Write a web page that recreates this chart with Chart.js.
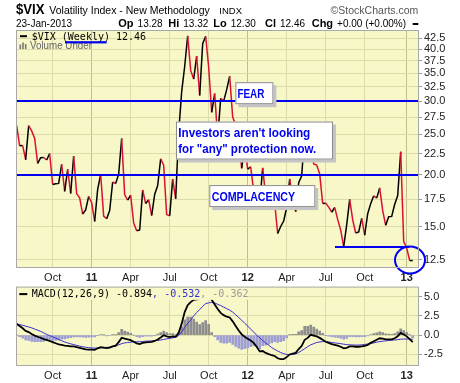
<!DOCTYPE html>
<html>
<head>
<meta charset="utf-8">
<script src="https://cdn.jsdelivr.net/npm/chart.js@4.4.0/dist/chart.umd.min.js"></script>
<style>
  body { margin: 0; background: #fff; width: 460px; height: 383px; overflow: hidden; position: relative; }
  canvas { position: absolute; left: 0; }
  #vix { top: 0; }
  #macd { top: 278px; }
</style>
</head>
<body>
<canvas id="vix" width="460" height="292"></canvas>
<canvas id="macd" width="460" height="105"></canvas>
<script>
// weekly bars, week 0 = week of 12-Jul-2010, last = week of 21-Jan-2013
const vixClose = [
  26.25, 23.47, 23.50, 21.74, 26.24, 25.49, 24.45, 21.31, 21.99, 22.01,
  21.71, 22.50, 18.96, 19.03, 19.08, 21.20, 18.26, 20.61, 18.04, 22.17,
  18.01, 17.61, 16.11, 16.47, 17.75, 17.14, 15.46, 18.47, 20.04, 15.93,
  15.69, 16.43, 19.22, 19.06, 20.08, 24.44, 17.91, 17.40, 17.87, 15.32,
  14.69, 14.75, 18.40, 17.07, 17.43, 15.98, 17.95, 18.86, 21.85, 21.10,
  16.06, 15.95, 19.53, 17.52, 25.25, 31.66, 36.36, 43.05, 35.59, 33.92,
  38.52, 30.98, 41.25, 42.96, 36.20, 28.24, 31.32, 24.53, 30.50, 30.04,
  32.00, 34.47, 27.52, 26.38, 24.29, 20.73, 23.40, 20.63, 20.91, 18.28,
  18.53, 17.10, 20.79, 17.78, 17.31, 17.29, 17.11, 14.47, 15.04, 15.50,
  16.70, 19.55, 17.44, 16.32, 19.16, 19.89, 25.10, 21.76, 26.66, 21.23,
  21.11, 20.11, 17.08, 17.10, 16.74, 16.27, 16.70, 15.64, 14.74, 13.45,
  15.18, 17.47, 15.60, 14.51, 14.59, 15.73, 14.33, 16.14, 17.06, 17.81,
  17.59, 18.61, 16.41, 15.14, 15.87, 15.90, 17.00, 17.84, 22.72, 13.83,
  13.36, 12.46, 12.46
];

const macdLine = [
  1.46, 1.2, 0.9, 0.55, 0.4, 0.15, -0.05, -0.2, -0.33, -0.5,
  -0.6, -0.75, -0.9, -1.05, -1.2, -1.25, -1.35, -1.38, -1.45, -1.45,
  -1.55, -1.65, -1.75, -1.85, -1.88, -1.88, -1.9, -1.7, -1.55, -1.6,
  -1.67, -1.6, -1.45, -1.35, -0.9, -0.35, -0.45, -0.55, -0.65, -0.85,
  -1.05, -1.15, -1.0, -0.92, -0.9, -0.88, -0.75, -0.55, -0.3, 0.0,
  -0.15, -0.25, -0.15, -0.2, 0.3, 1.5, 3.0, 3.9, 4.3, 4.6,
  4.65, 4.7, 5.4, 6.0, 5.6, 4.6, 4.0, 3.4, 2.9, 2.6,
  2.4, 2.3, 1.8, 1.2, 0.6, 0.1, -0.2, -0.45, -0.7, -1.0,
  -1.5, -2.1, -2.05, -2.3, -2.45, -2.6, -2.7, -3.0, -3.1, -3.1,
  -2.85, -2.5, -2.4, -2.3, -1.8, -1.4, -0.6, -0.35, 0.05, -0.05,
  -0.15, -0.35, -0.6, -0.85, -1.0, -1.15, -1.25, -1.35, -1.5, -1.7,
  -1.65, -1.45, -1.45, -1.5, -1.5, -1.45, -1.4, -1.25, -1.0, -0.8,
  -0.6, -0.4, -0.45, -0.55, -0.55, -0.55, -0.4, -0.15, 0.3, 0.1,
  -0.15, -0.5, -0.894
];

const signalLine = [
  1.46, 1.38, 1.28, 1.17, 1.07, 0.95, 0.8, 0.65, 0.5, 0.3,
  0.1, -0.05, -0.2, -0.38, -0.55, -0.72, -0.88, -1.0, -1.12, -1.22,
  -1.32, -1.42, -1.5, -1.57, -1.62, -1.66, -1.68, -1.67, -1.64, -1.62,
  -1.58, -1.55, -1.48, -1.4, -1.25, -1.1, -1.0, -0.95, -0.9, -0.85,
  -0.85, -0.85, -0.82, -0.78, -0.76, -0.74, -0.72, -0.68, -0.63, -0.55,
  -0.48, -0.42, -0.35, -0.25, -0.05, 0.4, 1.0, 1.55, 1.95, 2.5,
  2.95, 3.33, 3.75, 4.1, 4.2, 4.25, 4.2, 4.0, 3.85, 3.65,
  3.45, 3.25, 3.0, 2.65, 2.3, 1.95, 1.55, 1.2, 0.8, 0.4,
  0.0, -0.33, -0.7, -1.0, -1.3, -1.6, -1.85, -2.05, -2.25, -2.4,
  -2.5, -2.52, -2.5, -2.42, -2.25, -2.0, -1.75, -1.5, -1.25, -1.1,
  -0.95, -0.88, -0.83, -0.83, -0.88, -0.95, -1.0, -1.05, -1.1, -1.17,
  -1.22, -1.25, -1.27, -1.28, -1.28, -1.25, -1.2, -1.15, -1.08, -1.0,
  -0.9, -0.83, -0.78, -0.73, -0.69, -0.65, -0.62, -0.58, -0.52, -0.5,
  -0.5, -0.52, -0.532
];

const macdHist = [
  0, -0.18, -0.38, -0.62, -0.67, -0.8, -0.85, -0.85, -0.83, -0.8,
  -0.7, -0.7, -0.7, -0.67, -0.65, -0.53, -0.47, -0.38, -0.33, -0.23,
  -0.23, -0.23, -0.25, -0.28, -0.26, -0.22, -0.22, -0.03, 0.09, 0.02,
  -0.09, -0.05, 0.03, 0.05, 0.35, 0.75, 0.55, 0.4, 0.25, 0,
  -0.2, -0.3, -0.18, -0.14, -0.14, -0.14, -0.03, 0.13, 0.33, 0.55,
  0.33, 0.17, 0.2, 0.05, 0.35, 1.1, 2.0, 2.35, 2.35, 2.1,
  1.7, 1.37, 1.65, 1.9, 1.4, 0.35, -0.2, -0.6, -0.95, -1.05,
  -1.05, -0.95, -1.2, -1.45, -1.7, -1.85, -1.75, -1.65, -1.5, -1.4,
  -1.5, -1.77, -1.35, -1.3, -1.15, -1.0, -0.85, -0.95, -0.85, -0.7,
  -0.35, 0.02, 0.1, 0.12, 0.45, 0.6, 1.15, 1.15, 1.3, 1.05,
  0.8, 0.53, 0.23, -0.02, -0.12, -0.2, -0.25, -0.3, -0.4, -0.53,
  -0.43, -0.2, -0.18, -0.22, -0.22, -0.2, -0.2, -0.1, 0.08, 0.2,
  0.3, 0.43, 0.33, 0.18, 0.14, 0.1, 0.22, 0.43, 0.82, 0.6,
  0.35, 0.02, -0.362
];

// first week of each quarter
const weekTicks = [12, 25, 38, 51, 64, 77, 90, 103, 116, 130];
const weekTickLabels = ['Oct', '11', 'Apr', 'Jul', 'Oct', '12', 'Apr', 'Jul', 'Oct', '13'];
const vixTicks = [12.5, 15, 17.5, 20, 22.5, 25, 27.5, 30, 32.5, 35, 37.5, 40, 42.5];
const macdTicks = [-2.5, 0, 2.5, 5];

const quoteLabels = ['Op', 'Hi', 'Lo', 'Cl', 'Chg'];
const quoteValues = ['13.28', '13.32', '12.30', '12.46', '+0.00 (+0.00%)'];
const macdValues = ['-0.894', '-0.532', '-0.362'];

const fearLevel = 30;
const complacencyLevel = 20;
const supportLevel = 13.45;

const PANEL_BG = '#f8f7c8';
const GRID = '#dcdcab';
const GRID_YEAR = '#bfbf8a';
const RED = '#dc1030';
const BLUE = '#0000f0';
const SANS = 'Liberation Sans';
const MONO = 'DejaVu Sans Mono';

const isYear = i => /^\d/.test(weekTickLabels[i]);

function xScale(height) {
  return {
    type: 'linear', min: -0.22, max: 134.1, offset: false,
    afterBuildTicks: s => { s.ticks = weekTicks.map(v => ({ value: v })); },
    afterFit: s => { s.height = height; },
    grid: { color: c => isYear(c.index) ? GRID_YEAR : GRID, drawTicks: false, offset: false },
    border: { display: false },
    ticks: {
      callback: (v, i) => weekTickLabels[i],
      font: c => ({ family: SANS, size: 11, weight: isYear(c.index) ? 'bold' : 'normal' }),
      color: '#222', padding: 3, maxRotation: 0, autoSkip: false
    }
  };
}

function yTicks() {
  return { callback: v => Number(v).toFixed(1), font: { family: SANS, size: 11 }, color: '#222', padding: 2, autoSkip: false };
}

function txt(ctx, s, x, y, font, color, maxW) {
  ctx.font = font;
  ctx.fillStyle = color;
  ctx.textAlign = 'left';
  ctx.textBaseline = 'alphabetic';
  if (maxW) ctx.fillText(s, x, y, maxW); else ctx.fillText(s, x, y);
  return x + Math.min(ctx.measureText(s).width, maxW || 1e9);
}

const panelBg = {
  id: 'panelBg',
  beforeDraw(chart) {
    const a = chart.chartArea, ctx = chart.ctx;
    ctx.save();
    ctx.fillStyle = PANEL_BG;
    ctx.fillRect(a.left, a.top, a.right - a.left, a.bottom - a.top);
    ctx.restore();
  },
  afterDraw(chart) {
    const a = chart.chartArea, ctx = chart.ctx;
    ctx.save();
    ctx.strokeStyle = '#a8a8a8';
    ctx.lineWidth = 1;
    ctx.strokeRect(a.left + 0.5, a.top + 0.5, a.right - a.left - 1, a.bottom - a.top - 1);
    ctx.restore();
  }
};

function noteBox(ctx, left, top, w, h, lines) {
  ctx.fillStyle = '#c4c4c4';
  ctx.fillRect(left + 3, top + 3, w, h);
  ctx.fillStyle = '#fff';
  ctx.fillRect(left, top, w, h);
  ctx.strokeStyle = '#8c8c8c';
  ctx.lineWidth = 1;
  ctx.strokeRect(left + 0.5, top + 0.5, w - 1, h - 1);
  lines.forEach(l => txt(ctx, l.text, left + l.dx, top + l.dy, 'bold 12px ' + SANS, BLUE, l.w));
}

const vixNotes = {
  id: 'vixNotes',
  afterDatasetsDraw(chart) {
    const ctx = chart.ctx, a = chart.chartArea, x = chart.scales.x, y = chart.scales.y;
    ctx.save();
    ctx.strokeStyle = BLUE;
    ctx.lineWidth = 2;
    [fearLevel, complacencyLevel].forEach(v => {
      const py = Math.round(y.getPixelForValue(v));
      ctx.beginPath(); ctx.moveTo(a.left, py); ctx.lineTo(a.right, py); ctx.stroke();
    });
    const sy = Math.round(y.getPixelForValue(supportLevel));
    ctx.beginPath(); ctx.moveTo(x.getPixelForValue(106.1), sy); ctx.lineTo(x.getPixelForValue(130.9), sy); ctx.stroke();
    ctx.beginPath();
    ctx.ellipse(x.getPixelForValue(131.1), y.getPixelForValue(12.5), 15, 13.5, 0, 0, Math.PI * 2);
    ctx.stroke();

    noteBox(ctx, x.getPixelForValue(72.9), y.getPixelForValue(33.35), 38, 22,
      [{ text: 'FEAR', dx: 2, dy: 16, w: 27 }]);
    noteBox(ctx, x.getPixelForValue(53.1), y.getPixelForValue(26.84), 157, 38,
      [{ text: "Investors aren't looking", dx: 2.3, dy: 15.6, w: 132 },
       { text: 'for "any" protection now.', dx: 2.3, dy: 31.6, w: 138 }]);
    noteBox(ctx, x.getPixelForValue(64.2), y.getPixelForValue(18.9), 106, 22,
      [{ text: 'COMPLACENCY', dx: 2.4, dy: 15.7, w: 83.5 }]);
    ctx.restore();
  },
  afterDraw(chart) {
    const ctx = chart.ctx;
    ctx.save();
    txt(ctx, '$VIX', 16, 14, 'bold 14px ' + SANS, '#000', 28.5);
    txt(ctx, 'Volatility Index - New Methodology', 49.3, 14, '10.5px ' + SANS, '#000', 164);
    txt(ctx, 'INDX', 219.3, 14, '9.5px ' + SANS, '#000', 23.4);
    ctx.font = '10.5px ' + SANS;
    ctx.textAlign = 'right';
    ctx.fillStyle = '#555';
    ctx.fillText('\u00A9StockCharts.com', 418.3, 14, 88.5);

    txt(ctx, '23-Jan-2013', 16, 26.7, '10px ' + SANS, '#000');
    const qx = [118.3, 168.3, 213.3, 265, 311.7];
    quoteLabels.forEach((lab, i) => {
      const nx = txt(ctx, lab, qx[i], 26.7, 'bold 11px ' + SANS, '#000');
      txt(ctx, quoteValues[i], nx + 4, 26.7, '10px ' + SANS, '#000');
    });
    ctx.fillStyle = '#000';
    ctx.fillRect(412.7, 23, 5.6, 2);

    // legend
    ctx.fillRect(20, 35.2, 7, 2);
    txt(ctx, '$VIX (Weekly) ' + vixClose[vixClose.length - 1].toFixed(2), 31.7, 39.6, '10px ' + MONO, '#000');
    ctx.fillStyle = '#777';
    ctx.fillRect(19.5, 44.5, 1.6, 4.5);
    ctx.fillRect(22.2, 42.5, 1.6, 6.5);
    ctx.fillRect(24.9, 44, 1.6, 5);
    txt(ctx, 'Volume Under', 30, 48.7, '10px ' + SANS, '#666', 62);
    ctx.fillStyle = BLUE;
    ctx.fillRect(65, 41.2, 41.7, 2.2);
    ctx.restore();
  }
};

new Chart(document.getElementById('vix'), {
  type: 'line',
  data: {
    datasets: [{
      data: vixClose.map((v, i) => ({ x: i, y: v })),
      borderColor: '#000',
      borderWidth: 1.5,
      pointRadius: 0,
      tension: 0,
      segment: { borderColor: c => c.p1.parsed.y < c.p0.parsed.y ? RED : '#000' }
    }]
  },
  options: {
    responsive: false,
    animation: false,
    events: [],
    layout: { padding: { left: 16, top: 30, right: 0, bottom: 0 } },
    plugins: { legend: { display: false }, tooltip: { enabled: false } },
    scales: {
      x: xScale(24),
      y: {
        type: 'logarithmic', position: 'right', min: 11.96, max: 44.48,
        afterBuildTicks: s => { s.ticks = vixTicks.map(v => ({ value: v })); },
        afterFit: s => { s.width = 41; },
        grid: { color: GRID, tickColor: '#999', tickLength: 3 },
        border: { display: false },
        ticks: yTicks()
      }
    }
  },
  plugins: [panelBg, vixNotes]
});

const macdNotes = {
  id: 'macdNotes',
  afterDatasetsDraw(chart) {
    const ctx = chart.ctx, a = chart.chartArea;
    ctx.save();
    ctx.fillStyle = PANEL_BG;
    ctx.fillRect(a.left + 1, a.top + 0.5, 231, 12.8);
    ctx.fillStyle = '#000';
    ctx.fillRect(19.3, a.top + 6.5, 8, 2);
    let nx = txt(ctx, 'MACD(12,26,9) ' + macdValues[0], 31.7, a.top + 10.6, '10px ' + MONO, '#000');
    nx = txt(ctx, ', ' + macdValues[1], nx, a.top + 10.6, '10px ' + MONO, '#3030d0');
    txt(ctx, ', ' + macdValues[2], nx, a.top + 10.6, '10px ' + MONO, '#9a9a9a');
    ctx.restore();
  }
};

new Chart(document.getElementById('macd'), {
  type: 'bar',
  data: {
    datasets: [
      {
        type: 'line', order: 1,
        data: macdLine.map((v, i) => ({ x: i, y: v })),
        borderColor: '#000', borderWidth: 1.8, pointRadius: 0, tension: 0
      },
      {
        type: 'line', order: 2,
        data: signalLine.map((v, i) => ({ x: i, y: v })),
        borderColor: '#3a2ed0', borderWidth: 1, pointRadius: 0, tension: 0
      },
      {
        type: 'bar', order: 3,
        data: macdHist.map((v, i) => ({ x: i, y: v })),
        backgroundColor: c => (c.raw && c.raw.y < 0) ? '#9e9ed2' : '#8e8e8e',
        barThickness: 2
      }
    ]
  },
  options: {
    responsive: false,
    animation: false,
    events: [],
    layout: { padding: { left: 16, top: 5.5, right: 0, bottom: 0 } },
    plugins: { legend: { display: false }, tooltip: { enabled: false } },
    scales: {
      x: xScale(17),
      y: {
        position: 'right', min: -4, max: 6.31,
        afterBuildTicks: s => { s.ticks = macdTicks.map(v => ({ value: v })); },
        afterFit: s => { s.width = 41; },
        grid: { color: GRID, tickColor: '#999', tickLength: 3 },
        border: { display: false },
        ticks: yTicks()
      }
    }
  },
  plugins: [panelBg, macdNotes]
});
</script>
</body>
</html>
